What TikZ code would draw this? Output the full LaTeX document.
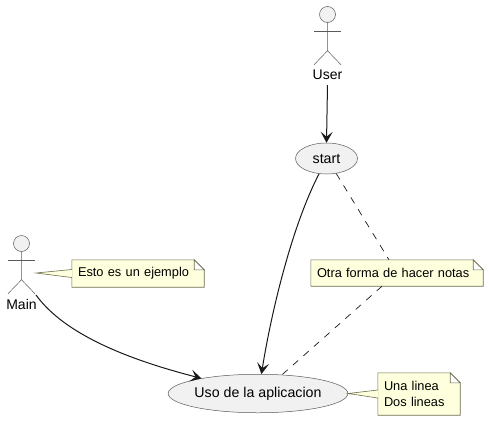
\documentclass[tikz,border=0pt]{standalone}
\usepackage{fontspec}
\setmainfont{Liberation Sans}
\usetikzlibrary{shapes.geometric,arrows.meta,backgrounds}
\definecolor{notefill}{HTML}{FEFFDD}
\definecolor{noteedge}{HTML}{6E6E50}
\definecolor{usefill}{HTML}{F1F1F1}
\definecolor{linegray}{HTML}{5A5A5A}
\tikzset{
  usecase/.style={ellipse,draw=linegray,line width=.5pt,fill=usefill,inner sep=0pt,font=\fontsize{14.2}{16}\selectfont},
  head/.style={circle,draw=linegray,line width=.5pt,fill=usefill,minimum size=16pt,inner sep=0pt},
  limb/.style={draw=linegray,line width=.5pt},
  lbl/.style={font=\fontsize{14}{16}\selectfont,inner sep=0pt},
  notebox/.style={font=\fontsize{12.8}{16.5}\selectfont,inner xsep=6pt,inner ysep=0pt,align=left},
  noteline/.style={draw=noteedge,line width=.6pt,fill=notefill,line join=miter},
  flow/.style={draw=black!90,line width=1pt,-{Stealth[length=11pt,width=12pt,inset=5pt]}},
  link/.style={draw=black!90,line width=.7pt,dash pattern=on 7pt off 7pt}
}
\begin{document}
\begin{tikzpicture}[x=1pt,y=-1pt]
    \useasboundingbox (0,0) rectangle (489,421);
    % actors
    \node[head] (userhead) at (327.5,14.5) {};
    \node[head] (mainhead) at (21.5,243.5) {};
    \foreach \a in {userhead,mainhead} {
        \draw[limb] (\a.south) --++ (0,28) --++ (-13.5,14);
        \draw[limb] (\a.south) ++ (0,28) --++ (13.5,14);
        \draw[limb] (\a.south) ++ (-13.5,8) --++ (27,0);
    }
    \node[lbl] (userlbl) at (327.5,75) {User};
    \node[lbl] (mainlbl) at (21.5,304) {Main};
    % use cases
    \node[usecase,minimum width=62pt,minimum height=31pt] (start) at (326.5,158.5) {start};
    \node[usecase,minimum width=168pt,minimum height=38.5pt] (uso) at (258,393.5) {Uso de la aplicacion};
    % notes
    \node[notebox,minimum height=27pt,text width=120pt] (esto) at (138,273.5) {Esto es un ejemplo};
    \node[notebox,minimum height=26pt,text width=160pt] (otra) at (397,273) {Otra forma de hacer notas};
    \node[notebox,minimum height=42pt,text width=70pt] (una) at (419,394) {Una linea\\Dos lineas};
    \begin{scope}[on background layer]
        \foreach \n in {esto,otra,una} {
            \draw[noteline] (\n.north west) -- ([xshift=-10pt]\n.north east) -- ([yshift=-10pt]\n.north east) -- (\n.south east) -- (\n.south west) -- cycle;
            \draw[noteline,fill=white] ([xshift=-10pt]\n.north east) --++ (0,10) --++ (10,0) -- cycle;
        }
    \end{scope}
    % note pointers
    \coordinate (mainside) at (36,273);
    \draw[noteline] ([yshift=4pt]esto.west) -- (mainside) -- ([yshift=-4pt]esto.west);
    \draw[noteline] ([yshift=4pt]una.west) -- (uso.east) -- ([yshift=-4pt]una.west);
    % connectors
    \coordinate (mainfoot) at (36,295);
    \draw[flow] (userlbl.south) ++ (0,5) -- (start.north);
    \draw[flow] (start.244) .. controls (290,230) and (270,320) .. (uso.80);
    \draw[flow] (mainfoot) .. controls (65,335) and (130,360) .. (uso.165);
    \draw[link] (start.303) -- (otra.north -| 389,0);
    \draw[link] (otra.south -| 382,0) -- (uso.38);
\end{tikzpicture}
\end{document}
